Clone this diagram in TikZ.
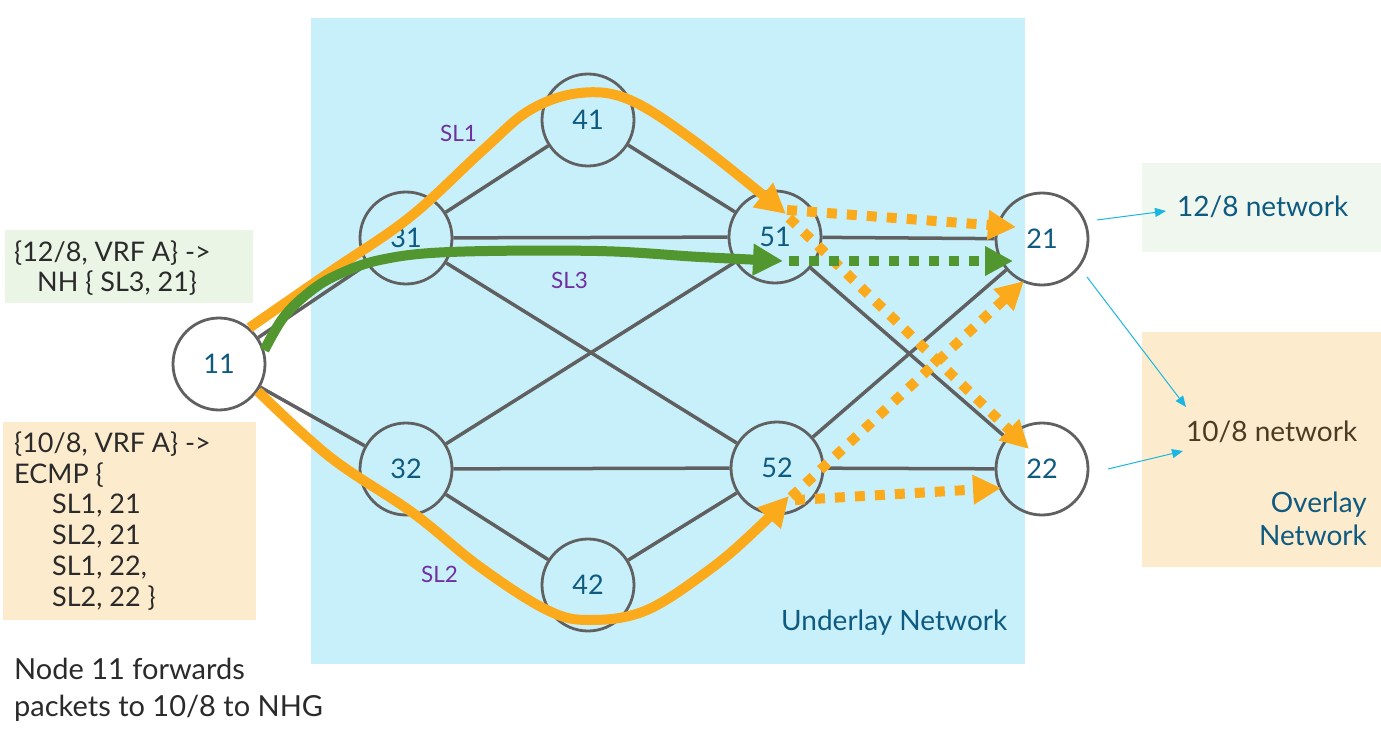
\documentclass[tikz,border=0pt]{standalone}
\usepackage{fontspec}
\setmainfont{Lato}
\usetikzlibrary{arrows.meta}
\definecolor{underlay}{HTML}{C8F0FA}
\definecolor{greenbox}{HTML}{EAF5E6}
\definecolor{greenboxlight}{HTML}{F0F7EE}
\definecolor{orangebox}{HTML}{FDEBCD}
\definecolor{edgegray}{HTML}{606060}
\definecolor{labelblue}{HTML}{0E5A80}
\definecolor{slpurple}{HTML}{7030A0}
\definecolor{pathorange}{HTML}{FBAA1C}
\definecolor{pathgreen}{HTML}{52962F}
\definecolor{cyanline}{HTML}{1BB7E2}
\definecolor{textdark}{HTML}{2A2A2A}
\definecolor{textbrown}{HTML}{4A3B22}
\tikzset{
  rnode/.style={circle, minimum size=92pt, inner sep=0pt, draw=edgegray, line width=2.8pt,
    font=\fontsize{27}{30}\selectfont, text=labelblue},
  link/.style={draw=edgegray, line width=3.5pt},
  slpath/.style={line width=10pt, line cap=butt, -{Triangle[length=30pt,width=30pt]}},
  dotpath/.style={line width=10pt, dash pattern=on 10pt off 10pt, -{Triangle[length=28pt,width=28pt]}},
  cyanarrow/.style={draw=cyanline, line width=1pt, -{Triangle[length=11pt,width=9pt]}},
  boxtext/.style={anchor=base west, inner sep=0pt, text=textdark, font=\fontsize{27}{30}\selectfont},
  sllabel/.style={anchor=base west, inner sep=0pt, text=slpurple, font=\fontsize{22.5}{24}\selectfont},
  nettext/.style={inner sep=0pt, font=\fontsize{28}{32}\selectfont},
}
\begin{document}
\begin{tikzpicture}[x=1pt, y=-1pt]
\useasboundingbox (0,0) rectangle (1381,738);
% backgrounds
\fill[underlay] (311,18) rectangle (1025,664);
\fill[greenbox] (5,230) rectangle (253,303);
\fill[orangebox] (3,422) rectangle (256,620);
\fill[greenboxlight] (1142,163) rectangle (1381,252);
\fill[orangebox] (1142,332) rectangle (1381,567);
% nodes
\node[rnode, fill=white] (n11) at (219,364) {11};
\node[rnode] (n31) at (406,238) {31};
\node[rnode] (n41) at (588,120) {41};
\node[rnode] (n51) at (775,237) {51};
\node[rnode] (n21) at (1042,239) {21};
\node[rnode] (n32) at (406,469) {32};
\node[rnode] (n42) at (588,585) {42};
\node[rnode] (n52) at (777,468) {52};
\node[rnode] (n22) at (1042,469) {22};
% links
\path[link] (n11) -- (n31);
\path[link] (n11) -- (n32);
\path[link] (n31) -- (n41);
\path[link] (n31) -- (n51);
\path[link] (n31) -- (n52);
\path[link] (n41) -- (n51);
\path[link] (n32) -- (n42);
\path[link] (n32) -- (n52);
\path[link] (n32) -- (n51);
\path[link] (n42) -- (n52);
\path[link] (n51) -- (n21);
\path[link] (n51) -- (n22);
\path[link] (n52) -- (n21);
\path[link] (n52) -- (n22);
% segment list paths
\draw[slpath, pathorange] plot[smooth, tension=0.6] coordinates
  {(n11.50) (330,272) (410,217) (483,150) (530,110) (580,93) (630,100) (697,143) (786,214)};
\draw[slpath, pathgreen] plot[smooth, tension=0.6] coordinates
  {(n11.17) (283,318) (307,294) (335,276) (380,260) (450,252) (597,251) (700,257) (783,261)};
\draw[slpath, pathorange] plot[smooth, tension=0.6] coordinates
  {(n11.-35) (330,457) (413,513) (480,567) (547,610) (590,620) (647,610) (713,567) (760,526) (789,496)};
% dotted continuation
\coordinate (o51) at (787,210);
\coordinate (o51b) at (789,218);
\coordinate (g51) at (789,261);
\coordinate (o52) at (791,497);
\coordinate (o52b) at (795,500);
\coordinate (t21a) at (1016,227);
\coordinate (t21g) at (1013,261);
\coordinate (t21b) at (1024,281);
\coordinate (t22a) at (1029,449);
\coordinate (t22b) at (1001,488);
\draw[dotpath, pathorange] (o51) -- (t21a);
\draw[dotpath, pathorange] (o51b) -- (t22a);
\draw[dotpath, pathgreen] (g51) -- (t21g);
\draw[dotpath, pathorange] (o52) -- (t21b);
\draw[dotpath, pathorange] (o52b) -- (t22b);
% SL labels
\node[sllabel] (sl1) at (440,142) {SL1};
\node[sllabel] (sl3) at (551,288) {SL3};
\node[sllabel] (sl2) at (421,582) {SL2};
% left texts
\node[boxtext] (a1) at (14,261) {\{12/8, VRF A\} ->};
\node[boxtext] (a2) at (37,291) {NH \{ SL3, 21\}};
\node[boxtext] (b1) at (14,452) {\{10/8, VRF A\} ->};
\node[boxtext] (b2) at (14,483) {ECMP \{};
\node[boxtext] (b3) at (52,513) {SL1, 21};
\node[boxtext] (b4) at (52,544) {SL2, 21};
\node[boxtext] (b5) at (52,575) {SL1, 22,};
\node[boxtext] (b6) at (52,606) {SL2, 22 \}};
\node[boxtext, font=\fontsize{29}{32}\selectfont] (c1) at (14,679) {Node 11 forwards};
\node[boxtext, font=\fontsize{29}{32}\selectfont] (c2) at (14,716) {packets to 10/8 to NHG};
% right texts
\node[nettext, anchor=base west, text=labelblue] (net12) at (1177,217) {12/8 network};
\node[nettext, anchor=base west, text=textbrown] (net10) at (1186,441) {10/8 network};
\node[nettext, anchor=base east, text=labelblue] (ov1) at (1367,512) {Overlay};
\node[nettext, anchor=base east, text=labelblue] (ov2) at (1367,545) {Network};
\node[nettext, anchor=base west, text=labelblue] (und) at (781,630) {Underlay Network};
% cyan arrows
\coordinate (s21a) at (1097,220);
\coordinate (e12) at (1166,211);
\coordinate (s21b) at (1087,277);
\coordinate (e10a) at (1186,407);
\coordinate (s22) at (1108,469);
\coordinate (e10b) at (1183,451);
\draw[cyanarrow] (s21a) -- (e12);
\draw[cyanarrow] (s21b) -- (e10a);
\draw[cyanarrow] (s22) -- (e10b);
\end{tikzpicture}
\end{document}
